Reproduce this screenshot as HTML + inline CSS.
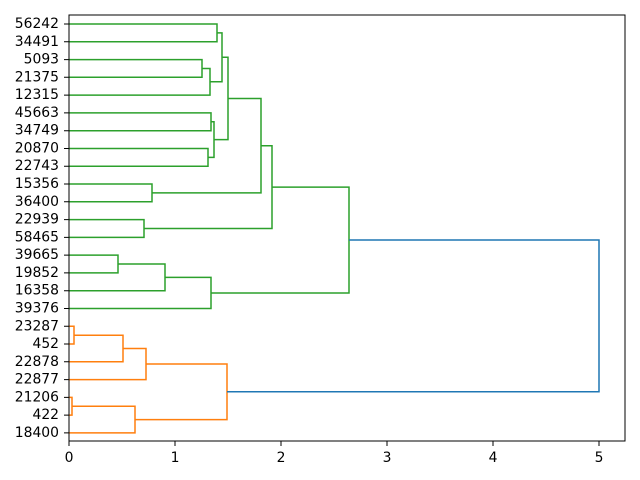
<!DOCTYPE html>
<html><head><style>body{margin:0;background:#fff}svg{display:block}</style></head><body>
<svg width="640" height="480" xmlns="http://www.w3.org/2000/svg" font-family="DejaVu Sans, sans-serif" font-size="13.9">
<g fill="none" stroke-width="1.5">
<g stroke="#2ca02c">
<path d="M69,59.6H202V77.3H69"/>
<path d="M202,68.5H210V95.1H69"/>
<path d="M69,24H217V41.8H69"/>
<path d="M217,32.9H222V81.8H210"/>
<path d="M69,148.5H208V166.2H69"/>
<path d="M69,112.9H211V130.7H69"/>
<path d="M211,121.8H214V157.4H208"/>
<path d="M222,57.3H228V139.6H214"/>
<path d="M69,184H152V201.8H69"/>
<path d="M228,98.5H261V192.9H152"/>
<path d="M69,219.6H144V237.4H69"/>
<path d="M261,145.7H272V228.5H144"/>
<path d="M69,255.1H118V272.9H69"/>
<path d="M118,264H165V290.7H69"/>
<path d="M165,277.4H211V308.5H69"/>
<path d="M272,187.1H349V293H211"/>
</g>
<g stroke="#ff7f0e">
<path d="M69,326.3H74V344H69"/>
<path d="M74,335.2H123V361.8H69"/>
<path d="M123,348.5H146V379.6H69"/>
<path d="M69,397.4H72V415.1H69"/>
<path d="M72,406.3H135V432.9H69"/>
<path d="M146,364H227V419.6H135"/>
</g>
<path stroke="#1f77b4" d="M349,240H599V391.8H227"/>
</g>
<rect x="69" y="15" width="556" height="426" fill="none" stroke="#000" stroke-width="1"/>
<g stroke="#000" stroke-width="1">
<path d="M69,441v5M175,441v5M281,441v5M387,441v5M493,441v5M599,441v5"/>
<path d="M69,24h-5M69,41.8h-5M69,59.6h-5M69,77.3h-5M69,95.1h-5M69,112.9h-5M69,130.7h-5M69,148.5h-5M69,166.2h-5M69,184h-5M69,201.8h-5M69,219.6h-5M69,237.4h-5M69,255.1h-5M69,272.9h-5M69,290.7h-5M69,308.5h-5M69,326.3h-5M69,344h-5M69,361.8h-5M69,379.6h-5M69,397.4h-5M69,415.1h-5M69,432.9h-5"/>
</g>
<g text-anchor="middle">
<text x="69" y="462">0</text><text x="175" y="462">1</text><text x="281" y="462">2</text><text x="387" y="462">3</text><text x="493" y="462">4</text><text x="599" y="462">5</text>
</g>
<g text-anchor="end" dominant-baseline="central">
<text x="59" y="24">56242</text><text x="59" y="41.8">34491</text><text x="59" y="59.6">5093</text><text x="59" y="77.3">21375</text><text x="59" y="95.1">12315</text><text x="59" y="112.9">45663</text><text x="59" y="130.7">34749</text><text x="59" y="148.5">20870</text><text x="59" y="166.2">22743</text><text x="59" y="184">15356</text><text x="59" y="201.8">36400</text><text x="59" y="219.6">22939</text><text x="59" y="237.4">58465</text><text x="59" y="255.1">39665</text><text x="59" y="272.9">19852</text><text x="59" y="290.7">16358</text><text x="59" y="308.5">39376</text><text x="59" y="326.3">23287</text><text x="59" y="344">452</text><text x="59" y="361.8">22878</text><text x="59" y="379.6">22877</text><text x="59" y="397.4">21206</text><text x="59" y="415.1">422</text><text x="59" y="432.9">18400</text>
</g>
</svg>
</body></html>
